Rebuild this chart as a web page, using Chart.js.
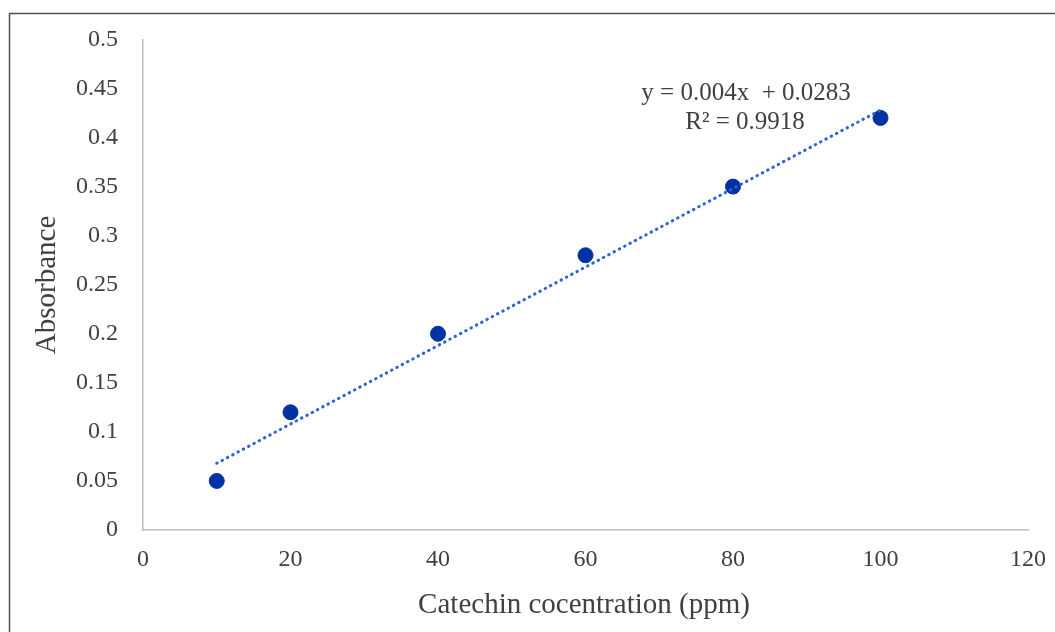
<!DOCTYPE html>
<html>
<head>
<meta charset="utf-8">
<script src="https://cdn.jsdelivr.net/npm/chart.js@4.4.1/dist/chart.umd.min.js"></script>
<style>
  body { margin: 0; background: #fff; }
  canvas { display: block; }
</style>
</head>
<body>
<canvas id="calibChart" width="1055" height="632"></canvas>
<script>
// --- Data ---
const concentration = [10, 20, 40, 60, 80, 100];          // ppm
const absorbance = [0.05, 0.12, 0.2, 0.28, 0.35, 0.42];
const trendX = [10, 100];                                 // ends of the dotted trend line
const trendY = [0.068, 0.428];
const xTicks = [0, 20, 40, 60, 80, 100, 120];
const yTicks = [0, 0.05, 0.1, 0.15, 0.2, 0.25, 0.3, 0.35, 0.4, 0.45, 0.5];
const yTickLabels = ['0', '0.05', '0.1', '0.15', '0.2', '0.25', '0.3', '0.35', '0.4', '0.45', '0.5'];
const equationLines = ['y = 0.004x  + 0.0283', 'R\u00B2 = 0.9918'];

const serif = '"Liberation Serif", "Times New Roman", serif';
const textColor = '#404040';

// frame, axis titles and the trendline label
const decorations = {
    id: 'decorations',
    beforeDraw(chart) {
        const ctx = chart.ctx;
        ctx.save();
        ctx.strokeStyle = '#505050';
        ctx.lineWidth = 1.5;
        ctx.beginPath();
        ctx.moveTo(9.5, 632);
        ctx.lineTo(9.5, 13.5);
        ctx.lineTo(1055, 13.5);
        ctx.stroke();
        ctx.restore();
    },
    afterDraw(chart) {
        const ctx = chart.ctx;
        ctx.save();
        ctx.fillStyle = textColor;
        ctx.textAlign = 'center';
        ctx.textBaseline = 'middle';

        ctx.font = '29px ' + serif;
        ctx.fillText('Catechin cocentration (ppm)', 584, 605);

        ctx.save();
        ctx.translate(47, 285);
        ctx.rotate(-Math.PI / 2);
        ctx.fillText('Absorbance', 0, 0);
        ctx.restore();

        ctx.font = '25px ' + serif;
        ctx.fillText(equationLines[0], 746, 93);
        ctx.fillText(equationLines[1], 745, 122);
        ctx.restore();
    }
};

new Chart(document.getElementById('calibChart'), {
    type: 'scatter',
    data: {
        datasets: [{
            label: 'Absorbance',
            data: concentration.map((x, i) => ({ x: x, y: absorbance[i] })),
            backgroundColor: '#0032A6',
            borderColor: '#0032A6',
            pointRadius: 7.5,
            pointHoverRadius: 7.5,
            order: 1
        }, {
            label: 'Linear trend',
            type: 'line',
            data: trendX.map((x, i) => ({ x: x, y: trendY[i] })),
            borderColor: '#2F62D6',
            borderWidth: 3,
            borderDash: [0.5, 5.5],
            borderCapStyle: 'round',
            pointRadius: 0,
            fill: false,
            order: 0
        }]
    },
    options: {
        responsive: false,
        animation: false,
        layout: { padding: { left: 0, top: 38, right: 27, bottom: 0 } },
        scales: {
            x: {
                type: 'linear',
                min: 0,
                max: 120,
                afterBuildTicks: function (scale) { scale.ticks = xTicks.map(v => ({ value: v })); },
                afterFit: function (scale) {
                    scale.height = 102;
                    scale.paddingRight = 0;
                    scale.paddingLeft = 0;
                },
                grid: { display: false, drawTicks: false },
                border: { display: true, color: '#BFBFBF', width: 1.5 },
                ticks: {
                    padding: 15,
                    color: textColor,
                    font: { family: serif, size: 24 },
                    maxRotation: 0
                }
            },
            y: {
                type: 'linear',
                min: 0,
                max: 0.5,
                afterBuildTicks: function (scale) { scale.ticks = yTicks.map(v => ({ value: v })); },
                afterFit: function (scale) { scale.width = 143; },
                grid: { display: false, drawTicks: false },
                border: { display: true, color: '#BFBFBF', width: 1.5 },
                ticks: {
                    padding: 25,
                    color: textColor,
                    font: { family: serif, size: 24 },
                    callback: function (value, index) { return yTickLabels[index]; }
                }
            }
        },
        plugins: {
            legend: { display: false },
            tooltip: { enabled: false }
        }
    },
    plugins: [decorations]
});
</script>
</body>
</html>
